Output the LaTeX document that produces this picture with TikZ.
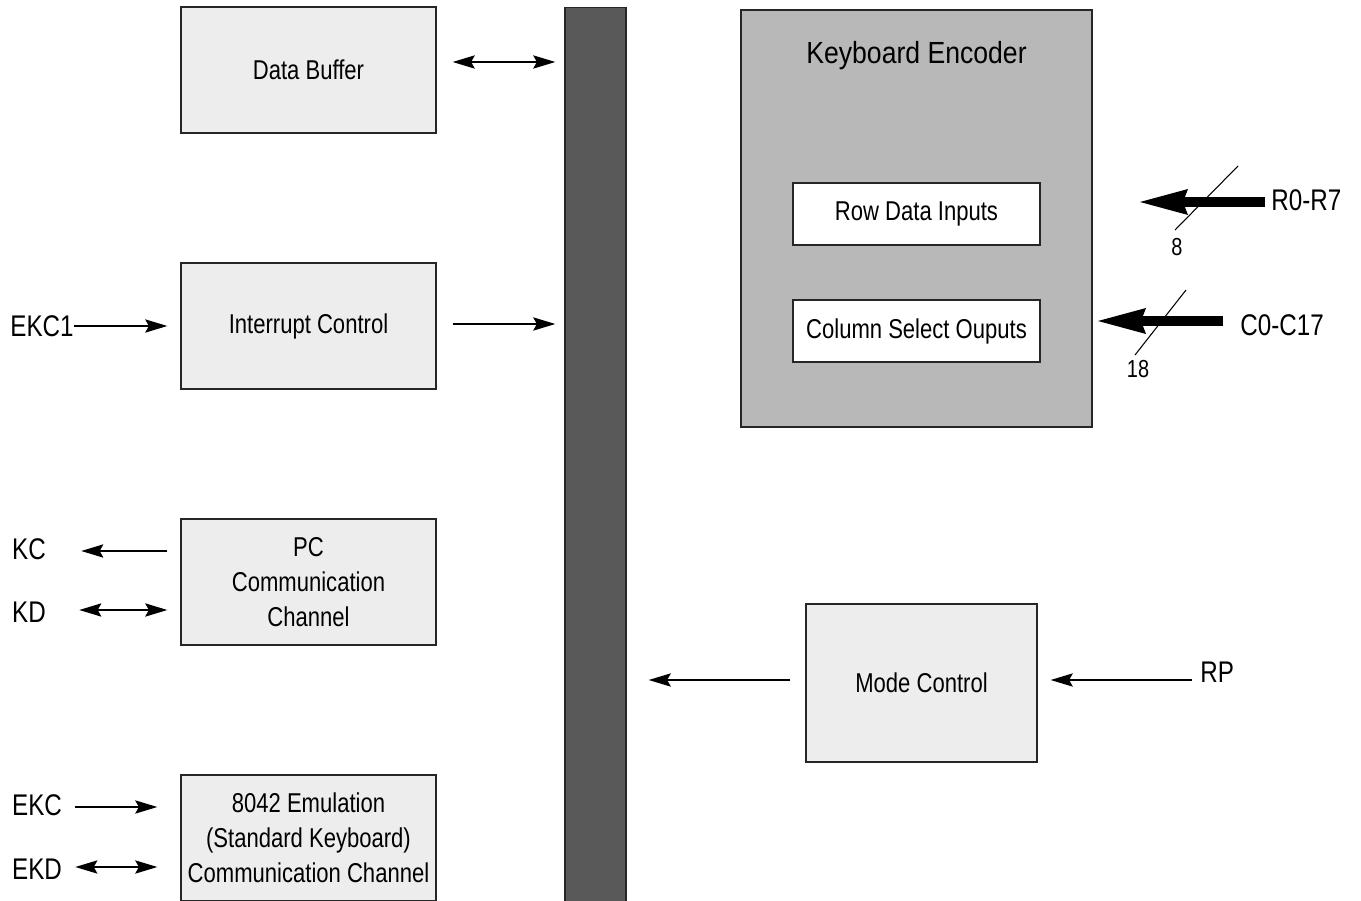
\documentclass[tikz,border=0pt]{standalone}
\usepackage{fontspec}
\setmainfont{Liberation Sans}[FakeStretch=0.81]
\newfontfamily\kbfont{Liberation Sans}[FakeStretch=0.87]
\usetikzlibrary{arrows.meta,calc}

\begin{document}
\begin{tikzpicture}[x=0.02cm,y=-0.02cm,
  >={Stealth[length=0.44cm,width=0.26cm,inset=0.07cm]},
  sig/.style={line width=1.6pt},
  fat/.style={line width=0.2cm,-{Stealth[length=0.96cm,width=0.52cm,inset=0.1cm,line width=0pt]}},
  blk/.style={draw=black!85,line width=0.7pt,fill=black!7,minimum width=5.1cm,minimum height=2.52cm,
    align=center,inner sep=0pt,font=\fontsize{15.5}{19.8}\selectfont},
  sub/.style={draw=black!85,line width=0.7pt,fill=white,minimum width=4.94cm,minimum height=1.24cm,
    inner sep=0pt,font=\fontsize{15.5}{19.8}\selectfont},
  pin/.style={inner sep=0pt,font=\fontsize{17}{20}\selectfont},
  wid/.style={inner sep=0pt,font=\fontsize{14}{16}\selectfont}]

  \useasboundingbox (0,0) rectangle (1361,901);
  \clip (0,0) rectangle (1361,901);

%%%%%%%%%%%%%%%%%%%%%%%%%%%%%%%%%%%%%%%%%%
  % Bus
  \node[draw=black!85,line width=0.7pt,fill=black!65,minimum width=1.22cm,
    minimum height=19.9cm,anchor=north] (bus) at (595.5,7) {};

  % Left column
  \node[blk] (databuf) at (308.5,70) {Data Buffer};
  \node[blk] (intctrl) at (308.5,326) {Interrupt Control};
  \node[blk] (pccomm) at (308.5,582) {PC\\Communication\\Channel};
  \node[blk] (emul) at (308.5,838) {8042 Emulation\\(Standard Keyboard)\\Communication Channel};

  % Keyboard encoder
  \node[draw=black!85,line width=0.7pt,fill=black!28,minimum width=7.02cm,
    minimum height=8.34cm] (kbenc) at (916.5,218.5) {};
  \node[inner sep=0pt,font=\kbfont\fontsize{17.4}{20}\selectfont] (kbtitle) at (916.5,56) {Keyboard Encoder};
  \node[sub] (rowin) at (916.5,214) {Row Data Inputs};
  \node[sub] (colsel) at (916.5,331) {Column Select Ouputs};

  % Mode control
  \node[blk,minimum width=4.62cm,minimum height=3.16cm] (modectrl) at (921.5,683) {Mode Control};

%%%%%%%%%%%%%%%%%%%%%%%%%%%%%%%%%%%%%%%%%%
  % Pin labels
  \node[pin] (ekc1) at (42,326) {EKC1};
  \node[pin] (kc) at (29,549) {KC};
  \node[pin] (kd) at (29,612) {KD};
  \node[pin] (ekc) at (37,805) {EKC};
  \node[pin] (ekd) at (37,869) {EKD};
  \node[pin,anchor=west] (rp) at (1200,672) {RP};
  \node[pin,anchor=west] (rows) at (1271,200) {R0-R7};
  \node[pin,anchor=west] (cols) at (1240,325) {C0-C17};

  % Connections
  \draw[sig,<->] ($(databuf.east)+(16,-8)$) -- ($(databuf.east -| bus.west)+(-9,-8)$);
  \draw[sig,->] ($(intctrl.east)+(16,-2)$) -- ($(intctrl.east -| bus.west)+(-9,-2)$);
  \draw[sig,->] (ekc1.east) -- ($(ekc1.east -| intctrl.west)+(-13,0)$);
  \draw[sig,->] ($(kc.east -| pccomm.west)+(-13,2)$) -- ($(kc.east)+(35,2)$);
  \draw[sig,<->] ($(kd.east)+(33,-2)$) -- ($(kd.east -| pccomm.west)+(-13,-2)$);
  \draw[sig,->] ($(ekc.east)+(13,2)$) -- ($(ekc.east -| emul.west)+(-23,2)$);
  \draw[sig,<->] ($(ekd.east)+(13,-2)$) -- ($(ekd.east -| emul.west)+(-23,-2)$);
  \draw[sig,->] ($(modectrl.west)+(-15,-3)$) -- ($(modectrl.west -| bus.east)+(22,-3)$);
  \draw[sig,->] ($(rp.west)+(-8,8)$) -- ($(modectrl.east)+(13,-3)$);

  % Wide inputs to the encoder
  \coordinate (rowtip) at (1140,202);
  \coordinate (coltip) at (1098,321);
  \draw[fat] ($(rows.west)+(-6,2)$) -- (rowtip);
  \draw[fat] ($(cols.west)+(-17,-4)$) -- (coltip);

  % Width marks
  \draw[line width=0.6pt] (1175,230) -- (1238,166);
  \node[wid] (rowcnt) at (1177,247) {8};
  \draw[line width=0.6pt] (1135,355) -- (1186,290);
  \node[wid] (colcnt) at (1138,369) {18};

\end{tikzpicture}
\end{document}
